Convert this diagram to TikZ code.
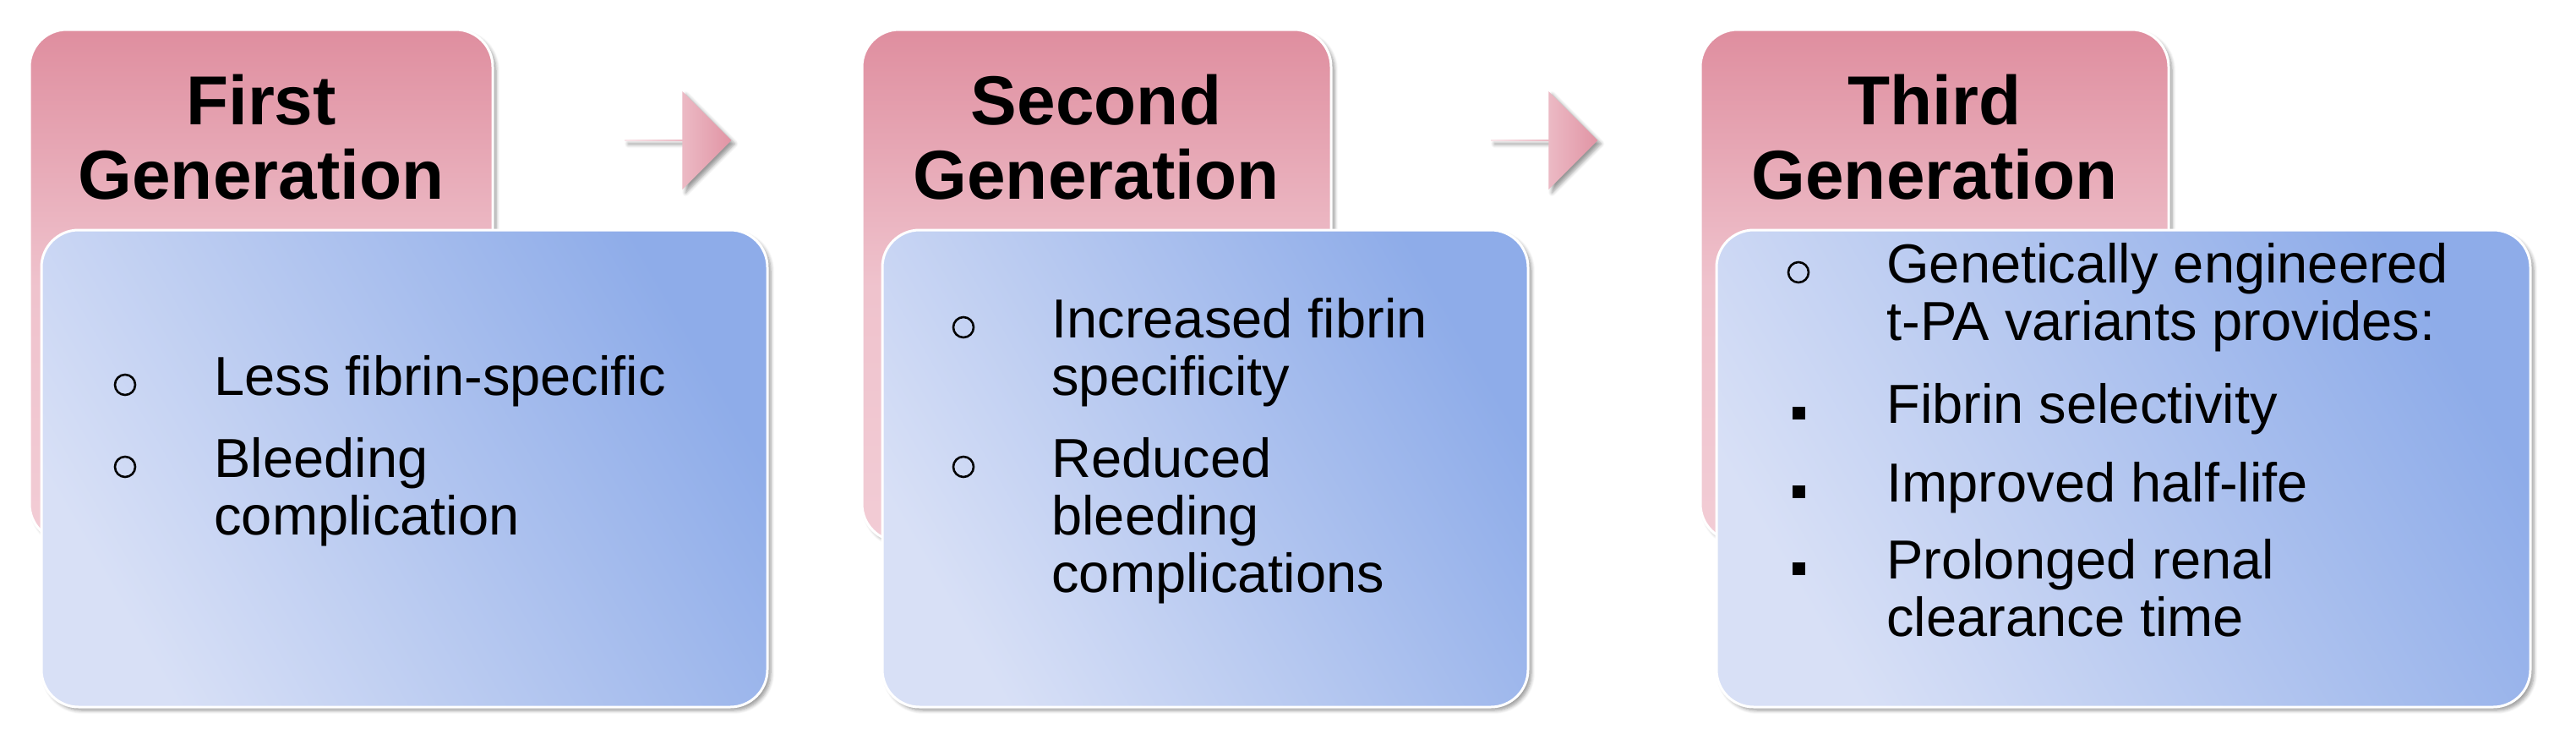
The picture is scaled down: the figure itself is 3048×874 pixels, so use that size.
\documentclass[tikz,border=0pt]{standalone}
\usepackage{fontspec}
\setmainfont{Liberation Sans}
\usetikzlibrary{shadows.blur,shapes.arrows}
\definecolor{pinkA}{HTML}{DF8E9F}
\definecolor{pinkB}{HTML}{F2CCD5}
\definecolor{blueA}{HTML}{D8E0F6}
\definecolor{blueB}{HTML}{8EACE9}
\tikzset{
  pinkbox/.style={draw=white,line width=1.5pt,rounded corners=22pt,top color=pinkA,bottom color=pinkB,middle color=pinkB!85!pinkA,
    blur shadow={shadow xshift=2pt,shadow yshift=-2pt,shadow blur steps=6}},
  bluebox/.style={draw=white,line width=1.5pt,rounded corners=22pt,shading=axis,left color=blueA,right color=blueB,shading angle=120,
    blur shadow={shadow xshift=2pt,shadow yshift=-2pt,shadow blur steps=6}},
  title/.style={font=\bfseries\fontsize{41}{44}\selectfont,align=center},
  body/.style={font=\fontsize{32.5}{34}\selectfont,anchor=base west,inner sep=0pt},
  cbul/.style={draw=black,line width=1.3pt,circle,minimum size=12pt,inner sep=0pt},
  sbul/.style={fill=black,minimum size=7.5pt,inner sep=0pt},
  garrow/.style={single arrow,single arrow head extend=14.5pt,minimum height=63pt,minimum width=58pt,inner sep=0pt,single arrow head indent=0pt,
    left color=pinkB!50!white,right color=pinkA!90!pinkB,
    blur shadow={shadow xshift=2pt,shadow yshift=-2pt,shadow blur steps=5}}
}
\begin{document}
\begin{tikzpicture}[x=0.5pt,y=-0.5pt]
\useasboundingbox (0,0) rectangle (3048,874);
% box 1
\path[pinkbox] (35,35) rectangle (583,640);
\path[bluebox] (49,272) rectangle (908,836);
\node[title] (t1) at (309,162) {First\\Generation};
\node[cbul] (b11) at (148,455) {};
\node[body] (l11) at (253,467) {Less fibrin-specific};
\node[cbul] (b12) at (148,552) {};
\node[body] (l12) at (253,564) {Bleeding};
\node[body] (l13) at (253,632) {complication};
% arrow 1
\node[garrow] (a1) at (802,166) {};
% box 2
\path[pinkbox] (1020,35) rectangle (1575,640);
\path[bluebox] (1044,272) rectangle (1808,836);
\node[title] (t2) at (1297,162) {Second\\Generation};
\node[cbul] (b21) at (1140,387) {};
\node[body] (l21) at (1244,399) {Increased fibrin};
\node[body] (l22) at (1244,467) {specificity};
\node[cbul] (b22) at (1140,552) {};
\node[body] (l23) at (1244,564) {Reduced};
\node[body] (l24) at (1244,632) {bleeding};
\node[body] (l25) at (1244,700) {complications};
% arrow 2
\node[garrow] (a2) at (1827,166) {};
% box 3
\path[pinkbox] (2012,35) rectangle (2566,640);
\path[bluebox] (2031,272) rectangle (2994,836);
\node[title] (t3) at (2289,162) {Third\\Generation};
\node[cbul] (b31) at (2128,322) {};
\node[body] (l31) at (2232,334) {Genetically engineered};
\node[body] (l32) at (2232,402) {t-PA variants provides:};
\node[sbul] (b32) at (2128,488) {};
\node[body] (l33) at (2232,500) {Fibrin selectivity};
\node[sbul] (b33) at (2128,581) {};
\node[body] (l34) at (2232,593) {Improved half-life};
\node[sbul] (b34) at (2128,672) {};
\node[body] (l35) at (2232,684) {Prolonged renal};
\node[body] (l36) at (2232,752) {clearance time};
\end{tikzpicture}
\end{document}
